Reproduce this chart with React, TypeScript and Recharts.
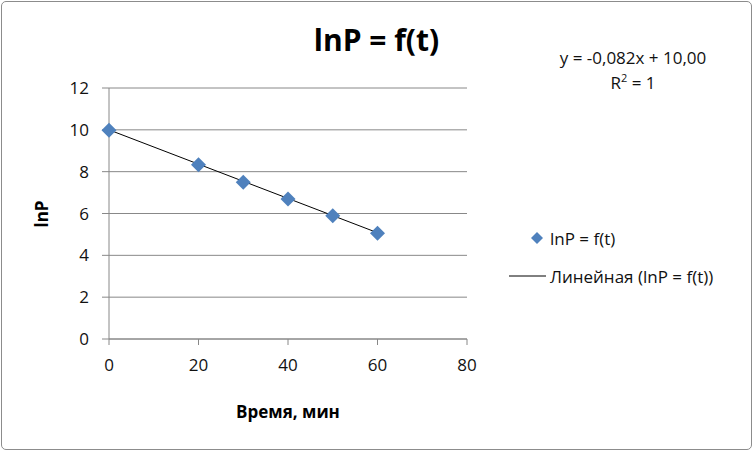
import { ComposedChart, Scatter, Line, XAxis, YAxis, CartesianGrid } from 'recharts'

const timeMin = [0, 20, 30, 40, 50, 60]
const lnP = [9.98, 8.33, 7.5, 6.69, 5.89, 5.05]
const trendX = [0, 60]
const trendY = [10.0, 5.08]
const xTicks = [0, 20, 40, 60, 80]
const yTicks = [0, 2, 4, 6, 8, 10, 12]

const points = timeMin.map((t, i) => ({ t, v: lnP[i] }))
const trend = trendX.map((t, i) => ({ t, v: trendY[i] }))

const FONT = "'Open Sans', 'Noto Sans', sans-serif"
const BLUE = '#4f81bd'

function Diamond(props: any) {
  const { cx, cy } = props
  const r = 7.5
  return (
    <polygon
      points={`${cx},${cy - r} ${cx + r},${cy} ${cx},${cy + r} ${cx - r},${cy}`}
      fill={BLUE}
    />
  )
}

function LegendBox() {
  return (
    <div style={{ fontFamily: FONT, fontSize: 17, color: '#111' }}>
      <div style={{ display: 'flex', alignItems: 'center', height: 24 }}>
        <svg width={42} height={20}>
          <polygon points="29,4 35,10 29,16 23,10" fill={BLUE} />
        </svg>
        <span>lnP = f(t)</span>
      </div>
      <div style={{ display: 'flex', alignItems: 'center', height: 24, marginTop: 14 }}>
        <svg width={42} height={20}>
          <line x1={1} y1={10} x2={38} y2={10} stroke="#000" strokeWidth={1} />
        </svg>
        <span>Линейная (lnP = f(t))</span>
      </div>
    </div>
  )
}

export default function App() {
  const tick = { fontSize: 17, fill: '#111', fontFamily: FONT }
  return (
    <div style={{ position: 'absolute', left: 0, top: 0, width: 753, height: 451, background: '#fff' }}>
      <div
        style={{
          position: 'absolute', left: 1, top: 1, width: 749, height: 447,
          border: '1px solid #8c8c8c', borderRadius: 5,
        }}
      />
      <ComposedChart
        width={753}
        height={451}
        margin={{ top: 88, right: 286, bottom: 0, left: 0 }}
        style={{ position: 'absolute', left: 0, top: 0 }}
      >
        <CartesianGrid vertical={false} stroke="#888" />
        <XAxis
          dataKey="t"
          type="number"
          domain={[0, 80]}
          ticks={xTicks}
          stroke="#888"
          tick={tick}
          tickSize={6}
          tickMargin={14}
          height={112}
          allowDuplicatedCategory={false}
        />
        <YAxis
          dataKey="v"
          type="number"
          domain={[0, 12]}
          ticks={yTicks}
          stroke="#888"
          tick={tick}
          tickSize={7}
          tickMargin={13}
          width={109}
        />
        <Line
          data={trend}
          dataKey="v"
          stroke="#000"
          strokeWidth={1}
          dot={false}
          activeDot={false}
          isAnimationActive={false}
          name="Линейная (lnP = f(t))"
        />
        <Scatter
          data={points}
          dataKey="v"
          fill={BLUE}
          shape={<Diamond />}
          isAnimationActive={false}
          name="lnP = f(t)"
        />
      </ComposedChart>
      <div style={{ position: 'absolute', left: 508, top: 226 }}>
        <LegendBox />
      </div>
      <div style={{ position: 'absolute', left: 0, width: 753, top: 19, textAlign: 'center', fontFamily: FONT, fontWeight: 'bold', fontSize: 30, color: '#000' }}>
        lnP = f(t)
      </div>
      <div style={{ position: 'absolute', left: 533, width: 200, top: 45, textAlign: 'center', fontFamily: FONT, fontSize: 17, lineHeight: '25px', color: '#111' }}>
        <div>y = -0,082x + 10,00</div>
        <div>R<sup style={{ fontSize: 11, lineHeight: 0 }}>2</sup> = 1</div>
      </div>
      <div style={{ position: 'absolute', left: 41, top: 214, transform: 'translate(-50%, -50%) rotate(-90deg)', fontFamily: FONT, fontWeight: 'bold', fontSize: 17, color: '#000' }}>
        lnP
      </div>
      <div style={{ position: 'absolute', left: 188, width: 200, top: 400, textAlign: 'center', fontFamily: FONT, fontWeight: 'bold', fontSize: 17, color: '#000' }}>
        Время, мин
      </div>
    </div>
  )
}
